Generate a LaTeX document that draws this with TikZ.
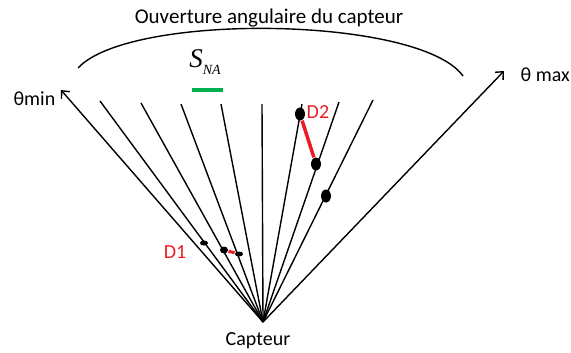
\documentclass[tikz,border=0pt]{standalone}
\usepackage{fontspec}
\setmainfont{Carlito}
\newfontfamily\serifit{Liberation Serif}
\usetikzlibrary{arrows.meta,shapes.geometric}
\definecolor{rouge}{RGB}{237,28,36}
\definecolor{vert}{RGB}{0,176,80}

\begin{document}
\begin{tikzpicture}[x=1pt, y=-1pt, line width=1.4pt,
    txt/.style={font=\fontsize{20}{22}\selectfont, inner sep=0pt},
    tache/.style={ellipse, fill=black, draw=none, inner sep=0pt},
    lien/.style={rouge, line width=3.5pt},
    fleche/.style={-{Straight Barb[length=6pt,width=11pt]}}]
  \useasboundingbox (0,0) rectangle (571,353);
  \coordinate (capt) at (263,322);
  % rayons du capteur
  \foreach \n/\x/\y in {1/100/101, 2/141/103, 3/181/104, 4/221/104,
                        5/262/104, 6/302/104, 7/339/102, 8/373/100}
    \draw (capt) -- (\x,\y) coordinate (r\n);
  % limites de l'ouverture
  \coordinate (tmin) at (61,90);
  \coordinate (tmax) at (504,71);
  \draw[fleche] (capt) -- (tmin);
  \draw[fleche] (capt) -- (tmax);
  \node[txt, anchor=east] (lmin) at (56,99) {θmin};
  \node[txt, anchor=west] (lmax) at (520,75) {θ max};
  \node[txt] (lcapt) at (258,341) {Capteur};
  % ouverture angulaire
  \node[txt, font=\fontsize{21}{23}\selectfont] (titre) at (269,18)
    {Ouverture angulaire du capteur};
  \draw (78,68) .. controls (130,12) and (420,16) .. (463,76);
  % zone non atteinte
  \node[inner sep=0pt] (sna) at (205,62)
    {\serifit\itshape\fontsize{27}{29}\selectfont S\raisebox{-7pt}{\fontsize{14}{16}\selectfont NA}};
  \draw[vert, line width=4pt] (192,90) -- (223,90);
  % detections
  \node[tache, minimum width=8pt, minimum height=5pt] (a1) at (204,243) {};
  \node[tache, minimum width=8pt, minimum height=7pt] (a2) at (224,250) {};
  \node[tache, minimum width=8pt, minimum height=5pt] (a3) at (239,254) {};
  \node[tache, minimum width=10pt, minimum height=13pt] (b1) at (300,114) {};
  \node[tache, minimum width=10pt, minimum height=13pt] (b2) at (316,164) {};
  \node[tache, minimum width=10pt, minimum height=13pt] (b3) at (326,196) {};
  \draw[lien, line width=3pt] (a2) -- (a3);
  \draw[lien] (b1) -- (b2);
  \node[txt, text=rouge] (d1) at (175,252) {D1};
  \node[txt, text=rouge, anchor=west] (d2) at (306,112) {D2};
\end{tikzpicture}
\end{document}
